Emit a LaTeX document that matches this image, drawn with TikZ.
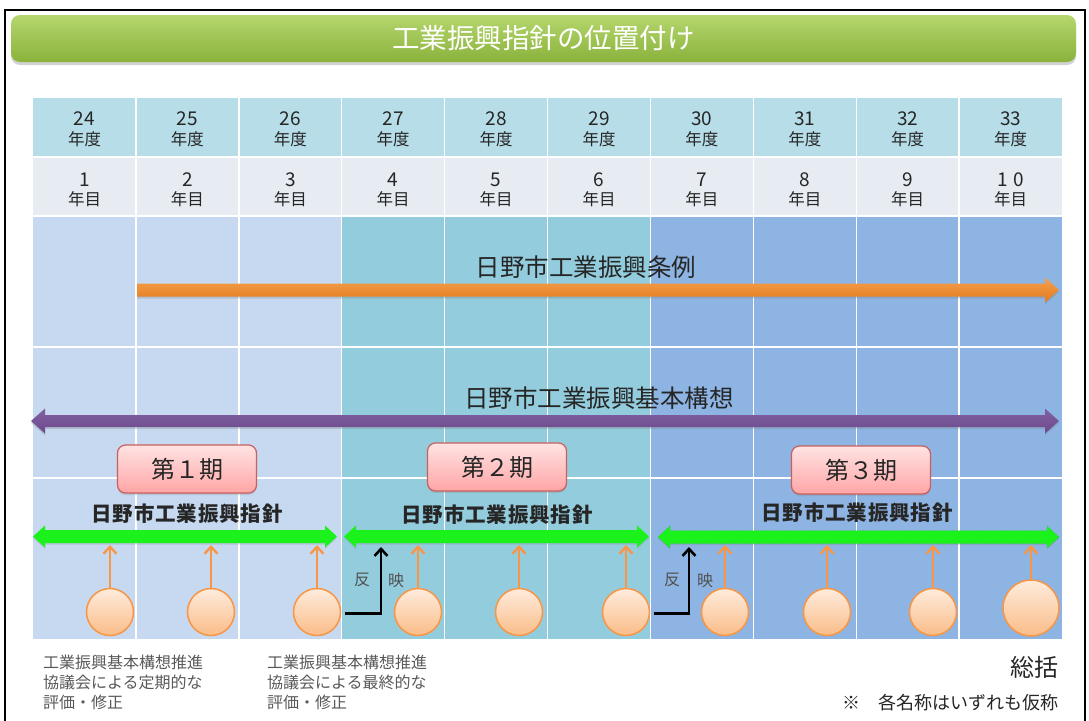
\documentclass[tikz,border=0pt]{standalone}
\usepackage{fontspec}
\setmainfont{Noto Sans CJK JP}
\usetikzlibrary{arrows.meta,shadows,calc}
\definecolor{titletop}{HTML}{B5D66E}
\definecolor{titlebot}{HTML}{8AB23B}
\definecolor{hdrA}{HTML}{B7DEE8}
\definecolor{hdrB}{HTML}{E7ECF3}
\definecolor{bodyA}{HTML}{C6D9F1}
\definecolor{bodyB}{HTML}{93CDDD}
\definecolor{bodyC}{HTML}{8DB4E2}
\definecolor{orA}{HTML}{F6A04C}
\definecolor{orB}{HTML}{E27A1F}
\definecolor{purA}{HTML}{8160A2}
\definecolor{purB}{HTML}{6C4A8C}
\definecolor{grn}{HTML}{1BF21B}
\definecolor{pinkA}{HTML}{FFE3E3}
\definecolor{pinkB}{HTML}{FFA5A5}
\definecolor{pinkline}{HTML}{C8605E}
\definecolor{circA}{HTML}{FEECDD}
\definecolor{circB}{HTML}{FABC88}
\definecolor{orline}{HTML}{F79646}
\definecolor{txtgray}{HTML}{595959}
\definecolor{txtdark}{HTML}{262626}
\newcommand{\dblarr}[7]{%
  \path[#7] (#1,#3) -- ({#1+#6},{#3-#5}) -- ({#1+#6},{#3-#4}) -- ({#2-#6},{#3-#4})
    -- ({#2-#6},{#3-#5}) -- (#2,#3) -- ({#2-#6},{#3+#5}) -- ({#2-#6},{#3+#4})
    -- ({#1+#6},{#3+#4}) -- ({#1+#6},{#3+#5}) -- cycle;}
\newcommand{\sglarr}[7]{%
  \path[#7] (#1,{#3-#4}) -- ({#2-#6},{#3-#4})
    -- ({#2-#6},{#3-#5}) -- (#2,#3) -- ({#2-#6},{#3+#5}) -- ({#2-#6},{#3+#4})
    -- (#1,{#3+#4}) -- cycle;}
\begin{document}
\begin{tikzpicture}[x=1pt,y=-1pt,
  hdrnum/.style={font=\fontsize{19}{19}\selectfont, text=txtdark, inner sep=0pt},
  hdrtxt/.style={font=\fontsize{16.5}{16.5}\selectfont, text=txtdark, inner sep=0pt},
  periodbox/.style={draw=pinkline, line width=1.2pt, rounded corners=8pt,
    top color=pinkA, bottom color=pinkB, minimum width=139pt, minimum height=48pt,
    font=\fontsize{24}{24}\selectfont, text=txtdark,
    drop shadow={shadow xshift=0pt, shadow yshift=-2pt, opacity=0.25}},
  shisin/.style={font=\fontsize{20.5}{20.5}\selectfont\bfseries\addfontfeature{LetterSpace=4}, text=txtdark, inner sep=0pt},
  bigtxt/.style={font=\fontsize{24.5}{24.5}\selectfont, text=txtdark, inner sep=0pt},
  evalcirc/.style={circle, draw=orline, line width=1.5pt, top color=circA,
    bottom color=circB, minimum size=47pt, inner sep=0pt},
  oarrow/.style={draw=orline, line width=2.4pt, -{Straight Barb[length=7pt,width=13pt]}},
  barrow/.style={draw=black, line width=2.6pt, -{Straight Barb[length=7pt,width=13pt]}},
  hanei/.style={font=\fontsize{16}{16}\selectfont, text=txtdark!80, inner sep=0pt},
  note/.style={font=\fontsize{16}{20}\selectfont, text=txtgray, align=left,
    inner sep=0pt, anchor=north west},
  gridline/.style={draw=white, line width=1.4pt}
]
\useasboundingbox (0,0) rectangle (1089,720);
\fill[white] (0,0) rectangle (1089,720);
% frame
\draw[line width=2pt] (5,10) rectangle (1085,730);
% title bar
\node[rounded corners=9pt, top color=titletop, bottom color=titlebot,
  minimum width=1065pt, minimum height=47pt, inner sep=0pt,
  drop shadow={shadow xshift=0pt, shadow yshift=-3pt, opacity=0.35},
  font=\fontsize{27.5}{27.5}\selectfont, text=white] (title) at (543.5,38.5) {工業振興指針の位置付け};
% table backgrounds
\fill[hdrA] (33,98) rectangle (1062,157);
\fill[hdrB] (33,157) rectangle (1062,216);
\fill[bodyA] (33,216) rectangle (341.7,639);
\fill[bodyB] (341.7,216) rectangle (650.4,639);
\fill[bodyC] (650.4,216) rectangle (1062,639);
\foreach \i in {1,...,9} {
  \draw[gridline] ({33+102.9*\i},98) -- ({33+102.9*\i},639);
}
\foreach \yy in {157,216,347,478} {
  \draw[gridline] (33,\yy) -- (1062,\yy);
}
% header texts
\foreach \i/\yr/\nn in {0/24/1,1/25/2,2/26/3,3/27/4,4/28/5,5/29/6,6/30/7,7/31/8,8/32/9} {
  \node[hdrnum] (y\i) at ({84.5+102.9*\i},119) {\yr};
  \node[hdrtxt] (yd\i) at ({84.5+102.9*\i},139) {年度};
  \node[hdrnum] (n\i) at ({84.5+102.9*\i},180) {\nn};
  \node[hdrtxt] (nd\i) at ({84.5+102.9*\i},199) {年目};
}
\node[hdrnum] (y9) at (1010.6,119) {33};
\node[hdrtxt] (yd9) at (1010.6,139) {年度};
\node[hdrnum] (n9) at (1010.6,180) {1\hspace{5pt}0};
\node[hdrtxt] (nd9) at (1010.6,199) {年目};
% ordinance arrow
\node[bigtxt] (jorei) at (586,267) {日野市工業振興条例};
\sglarr{137}{1059}{290}{6.5}{12.5}{14}{top color=orA, bottom color=orB,
  drop shadow={shadow xshift=0pt, shadow yshift=-2pt, opacity=0.3}}
% basic concept arrow
\node[bigtxt] (koso) at (599,398) {日野市工業振興基本構想};
\dblarr{31}{1059}{421}{6}{12.5}{14}{top color=purA, bottom color=purB,
  drop shadow={shadow xshift=0pt, shadow yshift=-2pt, opacity=0.3}}
% periods
\node[periodbox] (p1) at (187,469) {第１期};
\node[periodbox] (p2) at (497,467) {第２期};
\node[periodbox] (p3) at (861,470) {第３期};
\node[shisin] (s1) at (187,514) {日野市工業振興指針};
\node[shisin] (s2) at (497,515) {日野市工業振興指針};
\node[shisin] (s3) at (857,513) {日野市工業振興指針};
\dblarr{33}{337}{536.5}{6.5}{11}{12}{fill=grn, drop shadow={shadow xshift=0pt, shadow yshift=-1.5pt, opacity=0.25}}
\dblarr{344}{649}{536.5}{6.5}{11}{12}{fill=grn, drop shadow={shadow xshift=0pt, shadow yshift=-1.5pt, opacity=0.25}}
\dblarr{658}{1059}{537}{6.5}{11}{12}{fill=grn, draw=grn!75!black, draw opacity=0.6, dash pattern=on 1.5pt off 1.5pt, line width=0.4pt, drop shadow={shadow xshift=0pt, shadow yshift=-1.5pt, opacity=0.25}}
\coordinate (gb) at (0,545);
% evaluation circles
\foreach \n/\cx in {1/110,2/211,3/317,4/418,5/519,6/626,7/725,8/827,9/933} {
  \node[evalcirc] (c\n) at (\cx,612) {};
  \draw[oarrow] (c\n.north) -- (c\n.north |- gb);
}
\node[evalcirc, minimum size=56pt] (c10) at (1031,608) {};
\draw[oarrow] (c10.north) -- (c10.north |- gb);
% reflection arrows
\coordinate (r1) at (381,547);
\coordinate (r2) at (689,547);
\draw[barrow] ([xshift=4pt,yshift=-1.5pt]c3.east) -| (r1);
\draw[barrow] ([xshift=4pt,yshift=-1.5pt]c6.east) -| (r2);
\node[hanei] (h1a) at (362,580) {反};
\node[hanei] (h1b) at (396,580) {映};
\node[hanei] (h2a) at (672,580) {反};
\node[hanei] (h2b) at (705,580) {映};
% notes
\node[note] (note1) at (43,655) {工業振興基本構想推進\\協議会による定期的な\\評価・修正};
\node[note] (note2) at (267,655) {工業振興基本構想推進\\協議会による最終的な\\評価・修正};
\node[font=\fontsize{24}{24}\selectfont, text=txtdark, anchor=east, inner sep=0pt] (sokatsu) at (1059,667) {総括};
\node[font=\fontsize{18}{18}\selectfont, text=txtdark, anchor=east, inner sep=0pt] (kasho) at (1059,703) {※　各名称はいずれも仮称};
\end{tikzpicture}
\end{document}
